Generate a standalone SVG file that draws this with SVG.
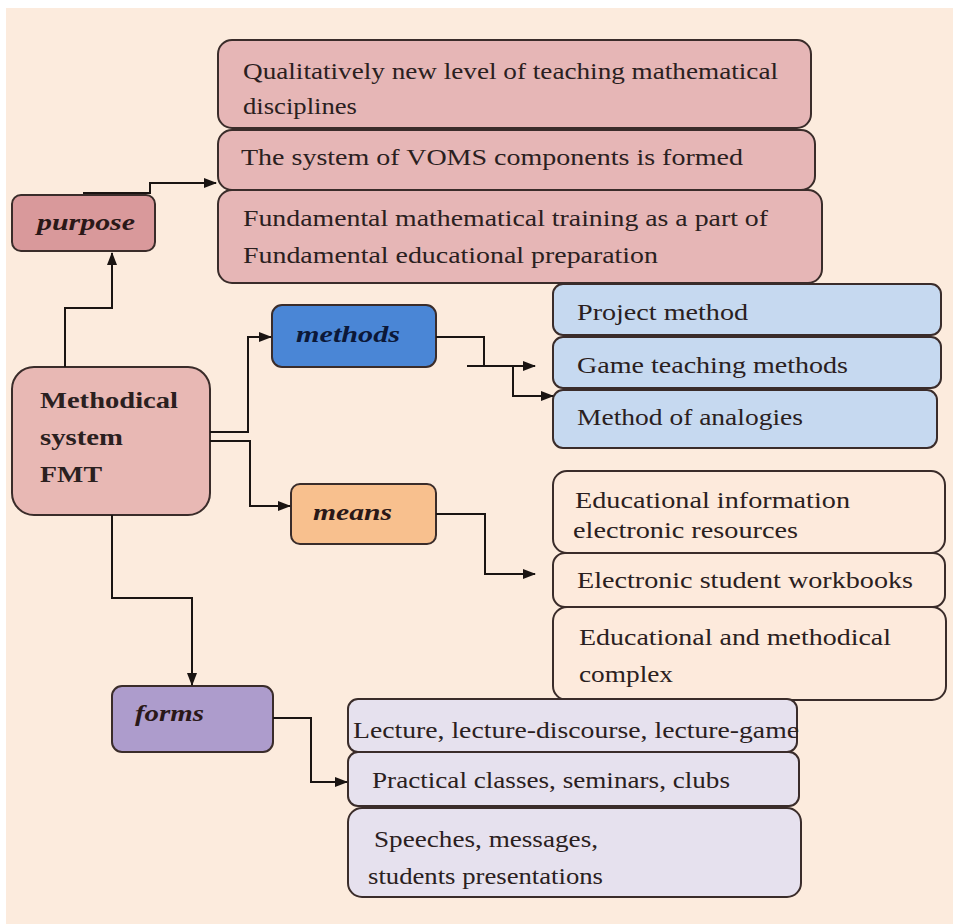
<svg xmlns="http://www.w3.org/2000/svg" width="953" height="924" viewBox="0 0 953 924">
<defs>
<marker id="ah" markerWidth="13" markerHeight="10" refX="12" refY="5" orient="auto" markerUnits="userSpaceOnUse"><path d="M0,0 L13,5 L0,10 z" fill="#1a1412"/></marker>
<style>
.bx{stroke:#3a2c2a;stroke-width:2}
.t{font-family:'Liberation Serif',serif;font-size:23px;fill:#2a2020}
.h{font-family:'Liberation Serif',serif;font-size:23px;font-weight:bold;font-style:italic;fill:#2a1818}
.c{fill:none;stroke:#1a1412;stroke-width:2}
</style>
</defs>
<rect x="0" y="0" width="953" height="924" fill="#ffffff"/>
<rect x="6" y="8" width="947" height="916" fill="#fcebdd"/>

<g id="purpose-items" font-family="Liberation Serif">
<rect class="bx" x="218" y="40" width="593" height="88" rx="14" fill="#e6b6b6"/>
<text class="t" x="243" y="79" textLength="535" lengthAdjust="spacingAndGlyphs">Qualitatively new level of teaching mathematical</text>
<text class="t" x="243" y="114" textLength="114" lengthAdjust="spacingAndGlyphs">disciplines</text>
<rect class="bx" x="218" y="130" width="597" height="60" rx="14" fill="#e6b6b6"/>
<text class="t" x="241" y="165" textLength="502" lengthAdjust="spacingAndGlyphs">The system of VOMS components is formed</text>
<rect class="bx" x="218" y="190" width="604" height="93" rx="14" fill="#e6b6b6"/>
<text class="t" x="243" y="226" textLength="525" lengthAdjust="spacingAndGlyphs">Fundamental mathematical training as a part of</text>
<text class="t" x="243" y="263" textLength="415" lengthAdjust="spacingAndGlyphs">Fundamental educational preparation</text>
</g>

<g id="purpose">
<rect class="bx" x="12" y="195" width="143" height="56" rx="9" fill="#d9999b"/>
<text class="h" x="37" y="230" textLength="98" lengthAdjust="spacingAndGlyphs">purpose</text>
</g>

<g id="system">
<rect class="bx" x="12" y="367" width="198" height="148" rx="22" fill="#e8b8b4"/>
<text class="t" x="40" y="408" font-weight="bold" textLength="138" lengthAdjust="spacingAndGlyphs">Methodical</text>
<text class="t" x="40" y="445" font-weight="bold" textLength="83" lengthAdjust="spacingAndGlyphs">system</text>
<text class="t" x="40" y="482" font-weight="bold" textLength="62" lengthAdjust="spacingAndGlyphs">FMT</text>
</g>

<g id="methods">
<rect class="bx" x="272" y="305" width="164" height="62" rx="10" fill="#4a86d6"/>
<text class="h" x="296" y="342" style="fill:#0c1838" textLength="104" lengthAdjust="spacingAndGlyphs">methods</text>
</g>

<g id="means">
<rect class="bx" x="291" y="484" width="145" height="60" rx="9" fill="#f8c08e"/>
<text class="h" x="313" y="520" textLength="79" lengthAdjust="spacingAndGlyphs">means</text>
</g>

<g id="forms">
<rect class="bx" x="112" y="686" width="161" height="66" rx="10" fill="#ad9ccc"/>
<text class="h" x="135" y="721" textLength="69" lengthAdjust="spacingAndGlyphs">forms</text>
</g>

<g id="methods-items">
<rect class="bx" x="553" y="284" width="388" height="51" rx="10" fill="#c6d9f0"/>
<text class="t" x="577" y="320" textLength="171" lengthAdjust="spacingAndGlyphs">Project method</text>
<rect class="bx" x="553" y="337" width="388" height="51" rx="10" fill="#c6d9f0"/>
<text class="t" x="577" y="373" textLength="271" lengthAdjust="spacingAndGlyphs">Game teaching methods</text>
<rect class="bx" x="553" y="390" width="384" height="58" rx="10" fill="#c6d9f0"/>
<text class="t" x="577" y="425" textLength="226" lengthAdjust="spacingAndGlyphs">Method of analogies</text>
</g>

<g id="means-items">
<rect class="bx" x="553" y="471" width="392" height="82" rx="14" fill="#fdeadc"/>
<text class="t" x="575" y="508" textLength="275" lengthAdjust="spacingAndGlyphs">Educational information</text>
<text class="t" x="573" y="538" textLength="225" lengthAdjust="spacingAndGlyphs">electronic resources</text>
<rect class="bx" x="553" y="553" width="392" height="54" rx="12" fill="#fdeadc"/>
<text class="t" x="577" y="588" textLength="336" lengthAdjust="spacingAndGlyphs">Electronic student workbooks</text>
<rect class="bx" x="553" y="607" width="393" height="93" rx="14" fill="#fdeadc"/>
<text class="t" x="579" y="645" textLength="312" lengthAdjust="spacingAndGlyphs">Educational and methodical</text>
<text class="t" x="579" y="682" textLength="94" lengthAdjust="spacingAndGlyphs">complex</text>
</g>

<g id="forms-items">
<rect class="bx" x="348" y="699" width="449" height="53" rx="10" fill="#e6e1ee"/>
<text class="t" x="353" y="738" textLength="446" lengthAdjust="spacingAndGlyphs">Lecture, lecture-discourse, lecture-game</text>
<rect class="bx" x="348" y="752" width="451" height="54" rx="10" fill="#e6e1ee"/>
<text class="t" x="372" y="788" textLength="358" lengthAdjust="spacingAndGlyphs">Practical classes, seminars, clubs</text>
<rect class="bx" x="348" y="808" width="453" height="89" rx="14" fill="#e6e1ee"/>
<text class="t" x="374" y="847" textLength="224" lengthAdjust="spacingAndGlyphs">Speeches, messages,</text>
<text class="t" x="368" y="884" textLength="235" lengthAdjust="spacingAndGlyphs">students presentations</text>
</g>

<g id="connectors">
<path class="c" d="M65,367 V308 H112 V253" marker-end="url(#ah)"/>
<path class="c" d="M83,193 H150 V183 H216" marker-end="url(#ah)"/>
<path class="c" d="M210,432 H248 V337 H271" marker-end="url(#ah)"/>
<path class="c" d="M210,441 H250 V506 H290" marker-end="url(#ah)"/>
<path class="c" d="M436,337 H484 V366"/>
<path class="c" d="M467,366 H535" marker-end="url(#ah)"/>
<path class="c" d="M513,366 V396 H553" marker-end="url(#ah)"/>
<path class="c" d="M436,514 H485 V574 H535" marker-end="url(#ah)"/>
<path class="c" d="M112,515 V598 H192 V685" marker-end="url(#ah)"/>
<path class="c" d="M273,718 H311 V782 H347" marker-end="url(#ah)"/>
</g>
</svg>
